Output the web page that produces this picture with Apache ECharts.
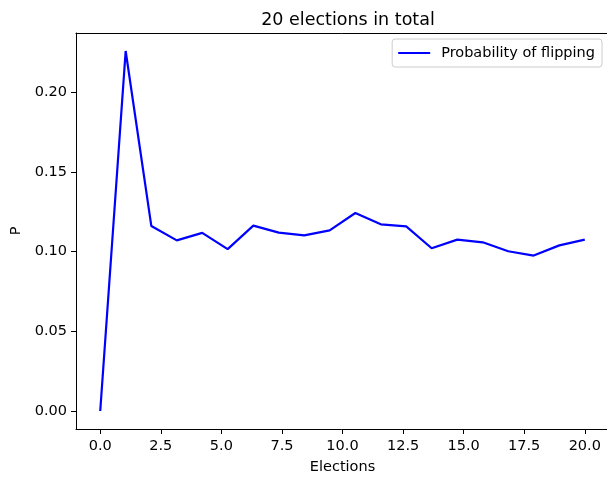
<!DOCTYPE html>
<html>
<head>
<meta charset="utf-8">
<script src="https://cdn.jsdelivr.net/npm/echarts@6/dist/echarts.min.js"></script>
<style>
  html, body { margin: 0; padding: 0; background: #fff; }
  #chart { width: 607px; height: 477px; }
</style>
</head>
<body>
<div id="chart"></div>
<script>
// election index (20 evenly spaced points from 0 to 20)
var elections = [0, 1.05, 2.11, 3.16, 4.21, 5.26, 6.32, 7.37, 8.42, 9.47,
  10.53, 11.58, 12.63, 13.68, 14.74, 15.79, 16.84, 17.89, 18.95, 20];
// probability of flipping
var probFlip = [0.0, 0.2258, 0.1160, 0.1070, 0.1117, 0.1015, 0.1163, 0.1119, 0.1102, 0.1133,
  0.1242, 0.1171, 0.1158, 0.1021, 0.1075, 0.1058, 0.1002, 0.0975, 0.1039, 0.1075];
var xTicks = [0, 2.5, 5, 7.5, 10, 12.5, 15, 17.5, 20];
var yTicks = [0, 0.05, 0.1, 0.15, 0.2];

var FONT = 'DejaVu Sans';
var chart = echarts.init(document.getElementById('chart'));

chart.setOption({
  animation: false,
  textStyle: { fontFamily: FONT },
  title: {
    text: '20 elections in total',
    left: 343, top: 6, textAlign: 'center',
    textStyle: { fontFamily: FONT, fontSize: 17.5, fontWeight: 'normal', color: '#000' }
  },
  legend: {
    right: 5, top: 39,
    backgroundColor: 'rgba(255,255,255,0.8)',
    borderColor: '#ccc', borderWidth: 1, borderRadius: 3,
    padding: [6, 7, 6, 6],
    itemWidth: 32, itemHeight: 2, itemGap: 10,
    icon: 'rect',
    textStyle: { fontFamily: FONT, fontSize: 14.5, color: '#000', lineHeight: 16, padding: [0, 0, 0, 6] },
    data: ['Probability of flipping']
  },
  grid: {
    left: 76, right: -2, top: 33, bottom: 48,
    outerBoundsMode: 'none',
    show: false
  },
  xAxis: [{
    type: 'value', min: -1, max: 21,
    name: 'Elections', nameLocation: 'middle', nameGap: 31,
    nameTextStyle: { fontFamily: FONT, fontSize: 14.5, color: '#000' },
    axisLine: { show: true, onZero: false, lineStyle: { color: '#000', width: 1 } },
    axisTick: { show: true, length: 5, customValues: xTicks, lineStyle: { color: '#000' } },
    axisLabel: {
      customValues: xTicks, fontSize: 14.5, color: '#000', margin: 10,
      formatter: function (v) { return v.toFixed(1); }
    },
    splitLine: { show: false }
  }, {
    // top spine only
    type: 'value', position: 'top', min: -1, max: 21,
    axisLine: { show: true, onZero: false, lineStyle: { color: '#000', width: 1 } },
    axisTick: { show: false }, axisLabel: { show: false }, splitLine: { show: false }
  }],
  yAxis: {
    type: 'value', min: -0.01129, max: 0.2371,
    name: 'P', nameLocation: 'middle', nameGap: 51, nameRotate: 90,
    nameTextStyle: { fontFamily: FONT, fontSize: 14.5, color: '#000' },
    axisLine: { show: true, onZero: false, lineStyle: { color: '#000', width: 1 } },
    axisTick: { show: true, length: 5, customValues: yTicks, lineStyle: { color: '#000' } },
    axisLabel: {
      customValues: yTicks, fontSize: 14.5, color: '#000', margin: 9,
      formatter: function (v) { return v.toFixed(2); }
    },
    splitLine: { show: false }
  },
  series: [{
    name: 'Probability of flipping',
    type: 'line',
    data: elections.map(function (x, i) { return [x, probFlip[i]]; }),
    showSymbol: false,
    lineStyle: { color: '#0000ff', width: 2.2 },
    itemStyle: { color: '#0000ff' }
  }]
});
</script>
</body>
</html>
